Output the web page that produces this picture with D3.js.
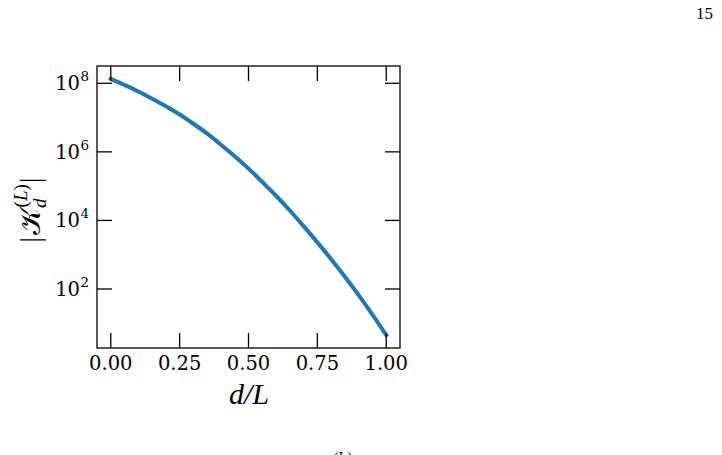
<!DOCTYPE html>
<html>
<head>
<meta charset="utf-8">
<script src="https://cdn.jsdelivr.net/npm/d3@7"></script>
<style>
  body { margin: 0; background: #fff; }
  svg text { fill: #000; }
</style>
</head>
<body>
<div id="chart"></div>
<script>
// values
const dOverL = [0, 0.05, 0.10, 0.15, 0.20, 0.25, 0.30, 0.35, 0.40, 0.45, 0.50,
                0.55, 0.60, 0.65, 0.70, 0.75, 0.80, 0.85, 0.90, 0.95, 1.00];
const kernel = [1.35e8, 8.9e7, 5.75e7, 3.55e7, 2.14e7, 1.23e7, 6.6e6, 3.39e6, 1.62e6, 7.4e5, 3.24e5,
                1.32e5, 5.25e4, 1.95e4, 6.8e3, 2.29e3, 741, 229, 66, 17.8, 4.5];
const xTicks = [0, 0.25, 0.5, 0.75, 1.0];
const yExponents = [2, 4, 6, 8];

const width = 722, height = 455;
const frame = { left: 97, right: 400, top: 66, bottom: 348 };
const tickLen = 15;

const svg = d3.select("#chart").append("svg")
    .attr("width", width)
    .attr("height", height);

// matplotlib-like 5% margins
const xPad = 0.05 * (d3.max(dOverL) - d3.min(dOverL));
const x = d3.scaleLinear()
    .domain([d3.min(dOverL) - xPad, d3.max(dOverL) + xPad])
    .range([frame.left, frame.right]);

const lmin = Math.log10(d3.min(kernel)), lmax = Math.log10(d3.max(kernel));
const lPad = 0.05 * (lmax - lmin);
const y = d3.scaleLog()
    .domain([Math.pow(10, lmin - lPad), Math.pow(10, lmax + lPad)])
    .range([frame.bottom, frame.top]);

// curve
const line = d3.line()
    .x((d, i) => x(dOverL[i]))
    .y(d => y(d))
    .curve(d3.curveMonotoneX);

svg.append("path")
    .datum(kernel)
    .attr("d", line)
    .attr("fill", "none")
    .attr("stroke", "#1f77b4")
    .attr("stroke-width", 4)
    .attr("stroke-linecap", "square");

// ticks on all sides, pointing in
const ticks = svg.append("g").attr("stroke", "#000").attr("stroke-width", 1.3);
xTicks.forEach(t => {
    const px = x(t);
    ticks.append("line").attr("x1", px).attr("x2", px)
        .attr("y1", frame.bottom).attr("y2", frame.bottom - tickLen);
    ticks.append("line").attr("x1", px).attr("x2", px)
        .attr("y1", frame.top).attr("y2", frame.top + tickLen);
});
yExponents.forEach(e => {
    const py = y(Math.pow(10, e));
    ticks.append("line").attr("x1", frame.left).attr("x2", frame.left + tickLen)
        .attr("y1", py).attr("y2", py);
    ticks.append("line").attr("x1", frame.right).attr("x2", frame.right - tickLen)
        .attr("y1", py).attr("y2", py);
});

svg.append("rect")
    .attr("x", frame.left).attr("y", frame.top)
    .attr("width", frame.right - frame.left)
    .attr("height", frame.bottom - frame.top)
    .attr("fill", "none")
    .attr("stroke", "#000")
    .attr("stroke-width", 1.3);

// tick labels
const tickFont = "'DejaVu Serif', serif";
svg.append("g").selectAll("text")
    .data(xTicks)
    .join("text")
    .attr("x", d => x(d))
    .attr("y", frame.bottom + 22)
    .attr("text-anchor", "middle")
    .attr("font-family", tickFont)
    .attr("font-size", 19.5)
    .text(d => d3.format(".2f")(d));

svg.append("g").selectAll("text")
    .data(yExponents)
    .join("text")
    .attr("x", 80)
    .attr("y", d => y(Math.pow(10, d)) + 7)
    .attr("text-anchor", "end")
    .attr("font-family", tickFont)
    .attr("font-size", 19.5)
    .text("10");
svg.append("g").selectAll("text")
    .data(yExponents)
    .join("text")
    .attr("x", 80.5)
    .attr("y", d => y(Math.pow(10, d)) - 2)
    .attr("font-family", tickFont)
    .attr("font-size", 13.5)
    .text(d => d);

// axis labels
const mathFont = "'Liberation Serif', 'DejaVu Serif', serif";
svg.append("text")
    .attr("x", 249)
    .attr("y", 404)
    .attr("text-anchor", "middle")
    .attr("font-family", mathFont)
    .attr("font-size", 30)
    .attr("font-style", "italic")
    .text("d/L");

const ylab = svg.append("text")
    .attr("transform", "translate(40,210) rotate(-90)")
    .attr("text-anchor", "middle")
    .attr("font-family", mathFont)
    .attr("font-size", 29);
ylab.append("tspan").text("|");
ylab.append("tspan").attr("dx", 2).text("\u{1D4A6}");
ylab.append("tspan").attr("font-style", "italic").attr("font-size", 19).attr("dy", 6).text("d");
ylab.append("tspan").attr("font-size", 19).attr("dy", -19).attr("dx", -9).text("(");
ylab.append("tspan").attr("font-size", 19).attr("font-style", "italic").text("L");
ylab.append("tspan").attr("font-size", 19).text(")");
ylab.append("tspan").attr("dy", 13).attr("dx", 1).text("|");

// page number and caption fragment
svg.append("text")
    .attr("x", 713).attr("y", 19)
    .attr("text-anchor", "end")
    .attr("font-family", mathFont)
    .attr("font-size", 17)
    .text("15");
svg.append("text")
    .attr("x", 343).attr("y", 462)
    .attr("text-anchor", "middle")
    .attr("font-family", mathFont)
    .attr("font-size", 14)
    .text("(L)");
</script>
</body>
</html>
